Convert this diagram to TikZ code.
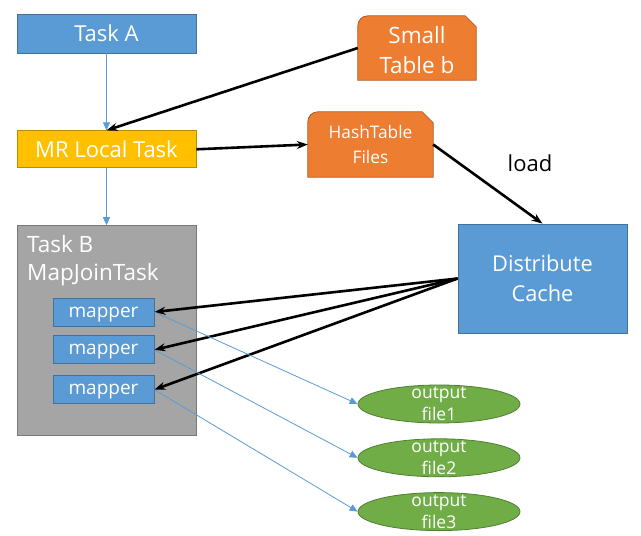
\documentclass[tikz,border=0pt]{standalone}
\usepackage{fontspec}
\setmainfont{Open Sans}
\usetikzlibrary{positioning, arrows.meta, shapes.geometric}

\definecolor{boxblue}{HTML}{5B9BD5}
\definecolor{boxblueline}{HTML}{41719C}
\definecolor{boxgold}{HTML}{FFC000}
\definecolor{boxgoldline}{HTML}{BC8C00}
\definecolor{boxgray}{HTML}{A5A5A5}
\definecolor{boxgrayline}{HTML}{787878}
\definecolor{boxorange}{HTML}{ED7D31}
\definecolor{boxorangeline}{HTML}{AE5A21}
\definecolor{boxgreen}{HTML}{70AD47}
\definecolor{boxgreenline}{HTML}{507E32}

\tikzset{
  taskbox/.style={draw=boxblueline, fill=boxblue, line width=0.8pt, text=white,
    minimum width=179pt, font=\fontsize{22}{26}\selectfont, inner sep=0pt},
  mapbox/.style={taskbox, minimum width=101pt, minimum height=28pt,
    text depth=0pt, font=\fontsize{19}{22}\selectfont},
  filebox/.style={inner sep=0pt, text=white, align=center},
  outfile/.style={ellipse, draw=boxgreenline, fill=boxgreen, line width=0.8pt,
    minimum width=162pt, minimum height=38pt, inner sep=0pt},
  outtext/.style={text=white, align=center, inner sep=0pt,
    font=\fontsize{17.5}{22}\selectfont},
  flow/.style={->, draw=boxblue, line width=0.8pt},
  feed/.style={-{Stealth[length=11pt, width=8pt]}, line width=2.6pt},
}

\begin{document}
\begin{tikzpicture}[x=1pt, y=-1pt, >={Triangle[length=8pt, width=7pt]}]
\useasboundingbox (0,0) rectangle (641,536);

\node[taskbox, minimum height=39pt] (taskA) at (106.5,33.5) {Task A};
\node[taskbox, fill=boxgold, draw=boxgoldline, minimum height=37pt, below=77pt of taskA] (mrlocal) {MR Local Task};
\node[taskbox, fill=boxgray, draw=boxgrayline, minimum height=210pt, below=57pt of mrlocal] (taskB) {};
\node[anchor=north west, align=left, text=white, inner sep=0pt,
  font=\fontsize{22.5}{28}\selectfont] (taskBtext) at (27,235) {Task B\\MapJoinTask};

\node[mapbox] (mapper1) at (103.5,312) {mapper};
\node[mapbox, below=9pt of mapper1] (mapper2) {mapper};
\node[mapbox, below=11pt of mapper2] (mapper3) {mapper};

% orange file shapes, rounded top left and snipped top right
\node[filebox, minimum width=118pt, minimum height=64pt] (smalltab) at (417,48) {};
\node[filebox, minimum width=125pt, minimum height=65pt] (hashfiles) at (370.5,144.5) {};
\foreach \f in {smalltab, hashfiles}
  \filldraw[fill=boxorange, draw=boxorangeline, line width=0.8pt]
    (\f.south west) -- ([yshift=-10pt]\f.north west)
    arc[start angle=180, end angle=90, radius=10pt]
    -- ([xshift=-11pt]\f.north east) -- ([yshift=-11pt]\f.north east)
    -- (\f.south east) -- cycle;
\node[filebox, font=\fontsize{22.5}{30}\selectfont] (smalltabtext) at ([yshift=-2pt]smalltab) {Small\\Table b};
\node[filebox, font=\fontsize{17.3}{25}\selectfont] (hashfilestext) at (hashfiles) {HashTable\\Files};

\node[taskbox, minimum width=169pt, minimum height=109pt, align=center,
  font=\fontsize{21.8}{30}\selectfont] (distcache) at (542.5,278.5) {Distribute\\Cache};
\node[font=\fontsize{22}{26}\selectfont] (loadlbl) at (530,163) {load};

\node[outfile] (out1) at (439,404) {};
\node[outfile, below=15pt of out1] (out2) {};
\node[outfile, below=15pt of out2] (out3) {};
\foreach \o in {1,2,3}
  \node[outtext] (out\o text) at (out\o) {output\\file\o};

\draw[flow] (taskA) -- (mrlocal);
\draw[flow] (mrlocal) -- (taskB);

\draw[feed] (smalltab.west) -- (mrlocal.north);
\draw[feed] (mrlocal.east) -- (hashfiles.west);
\draw[feed] (hashfiles.east) -- (distcache.north);
\foreach \m in {1,2,3}
  \draw[feed] (distcache.west) -- (mapper\m.east);

\foreach \m in {1,2,3}
  \draw[flow] (mapper\m.east) -- (out\m.west);

\end{tikzpicture}
\end{document}
